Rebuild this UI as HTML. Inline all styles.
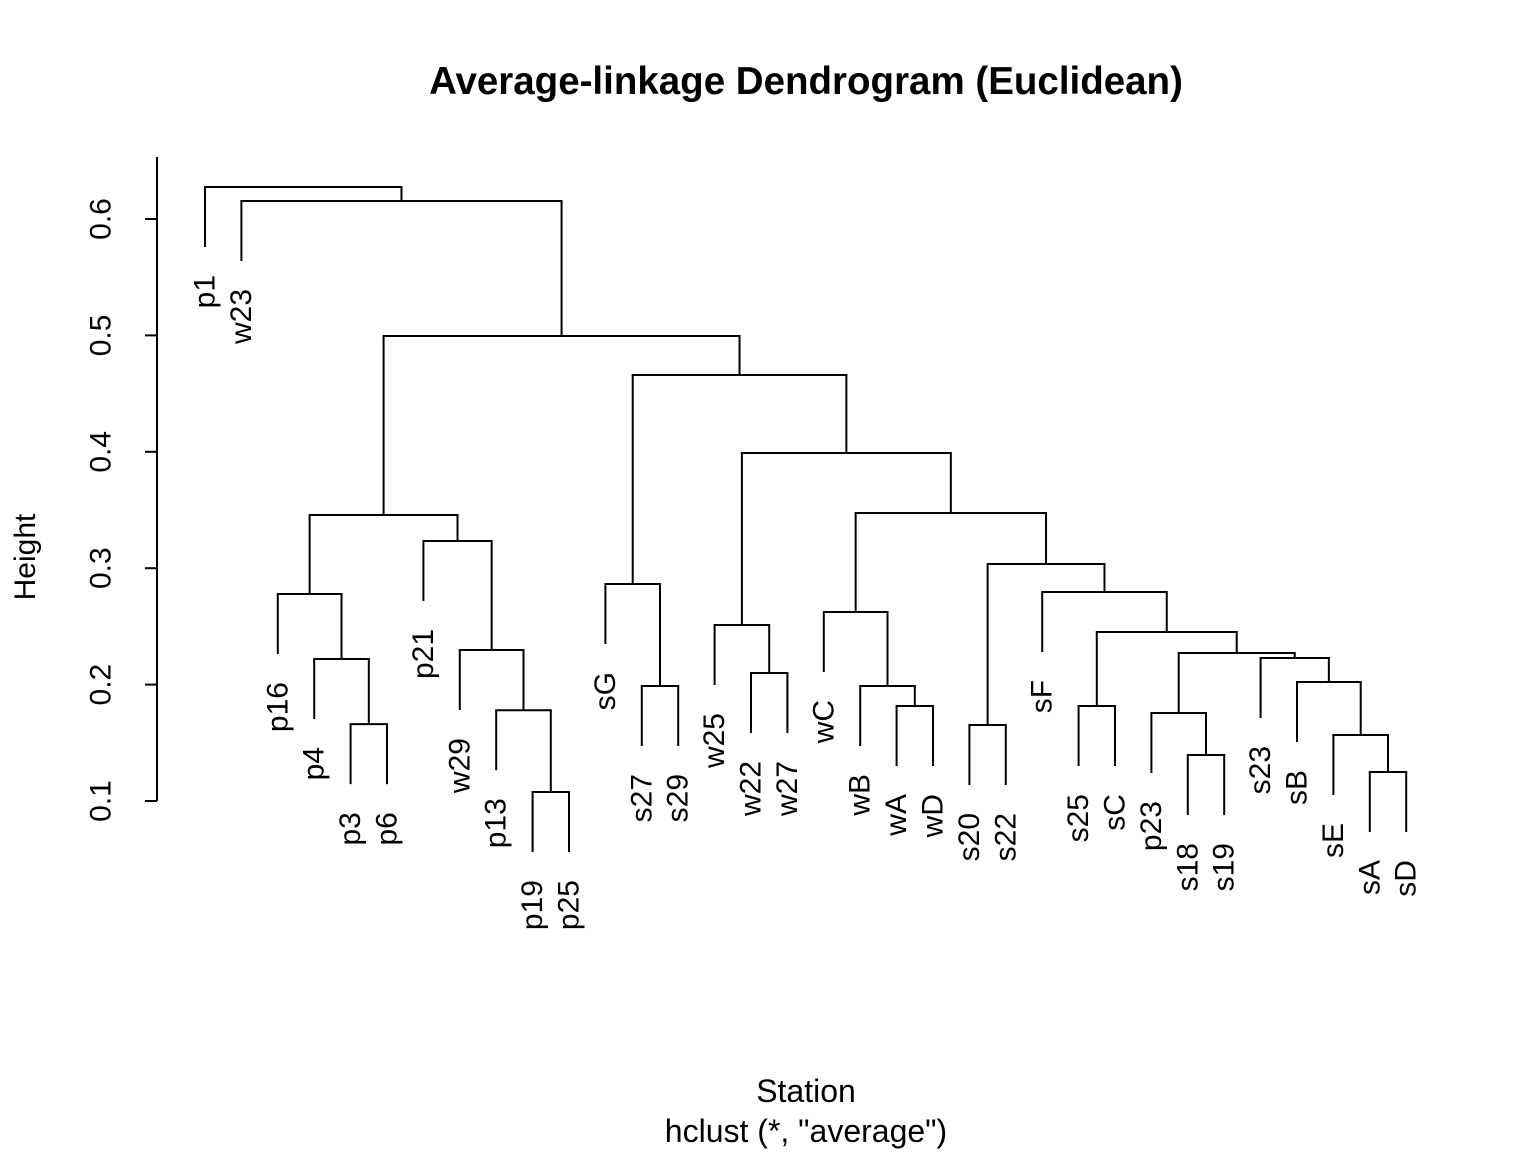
<!DOCTYPE html>
<html><head><meta charset="utf-8"><style>
html,body{margin:0;padding:0;background:#fff}
svg{display:block;font-family:"Liberation Sans",Arial,sans-serif}
</style></head><body>
<svg id="chart" width="1536" height="1152" viewBox="0 0 1536 1152" xmlns="http://www.w3.org/2000/svg">
<text x="806" y="94" text-anchor="middle" font-size="38.5" font-weight="bold">Average-linkage Dendrogram (Euclidean)</text>
<text x="806" y="1102" text-anchor="middle" font-size="32">Station</text>
<text x="806" y="1142" text-anchor="middle" font-size="32">hclust (*, "average")</text>
<text transform="translate(35,557) rotate(-90)" text-anchor="middle" font-size="30">Height</text>
<g id="axis"></g>
<g id="tree"></g>
<g id="labels"></g>
</svg>
<script>
const labels = ["p1","w23","p16","p4","p3","p6","p21","w29","p13","p19","p25","sG","s27","s29","w25","w22","w27","wC","wB","wA","wD","s20","s22","sF","s25","sC","p23","s18","s19","s23","sB","sE","sA","sD"];
const merges = [[-10,-11],[-33,-34],[-28,-29],[-32,2],[-22,-23],[-5,-6],[-27,3],[-9,1],[-20,-21],[-25,-26],[-13,-14],[-19,9],[-31,4],[-16,-17],[-4,6],[-30,13],[7,16],[-8,8],[10,17],[-15,14],[-18,12],[-3,15],[-24,19],[-12,11],[5,23],[-7,18],[22,26],[21,25],[20,28],[24,29],[27,30],[-2,31],[-1,32]];
const heights = [0.1077,0.1249,0.1395,0.1567,0.1653,0.166,0.1756,0.178,0.1816,0.1816,0.1988,0.1988,0.2022,0.21,0.222,0.2229,0.2271,0.2297,0.2452,0.2512,0.2624,0.2778,0.2796,0.2864,0.3036,0.3234,0.3457,0.3474,0.399,0.466,0.4995,0.6155,0.6275];
const yTicks = [0.1,0.2,0.3,0.4,0.5,0.6];

const NS = "http://www.w3.org/2000/svg";
function yS(h){ return 801 - (h - 0.1) * 1164; }
function xS(i){ return 205 + i * 36.4; }
const HANG = 60;
function mk(tag, attrs, parent){
  const e = document.createElementNS(NS, tag);
  for (const k in attrs) e.setAttribute(k, attrs[k]);
  parent.appendChild(e); return e;
}
const axis = document.getElementById('axis');
const tree = document.getElementById('tree');
const lab = document.getElementById('labels');

const ax = mk('line',{x1:157,x2:157,y1:157,y2:yS(0.1),stroke:'#000','stroke-width':2},axis);


yTicks.forEach(t=>{
  const tk = mk('line',{x1:145,x2:157,y1:yS(t),y2:yS(t),stroke:'#000','stroke-width':2},axis);
  
  
  const tl = mk('text',{transform:`translate(101,${yS(t)}) rotate(-90)`,'text-anchor':'middle','dominant-baseline':'central','font-size':30},axis);
  tl.textContent = t.toFixed(1);
  
  
});

const nodeX = [], nodeY = [];
function pos(ref){
  if (ref < 0) return {x: xS(-ref-1), leaf: true, i: -ref-1};
  return {x: nodeX[ref-1], y: nodeY[ref-1], leaf: false};
}
merges.forEach((m,k)=>{
  const h = yS(heights[k]);
  const a = pos(m[0]), b = pos(m[1]);
  [a,b].forEach(p=>{
    const bottom = p.leaf ? h + HANG : p.y;
    const v = mk('line',{x1:p.x,x2:p.x,y1:h,y2:bottom,stroke:'#000','stroke-width':2},tree);
    
    
    if (p.leaf){
      const t = mk('text',{transform:`translate(${p.x},${bottom+28}) rotate(-90)`,'text-anchor':'end','dominant-baseline':'central','font-size':30},lab);
      t.textContent = labels[p.i];
      
      
    }
  });
  const hl = mk('line',{x1:a.x-1,x2:b.x+1,y1:h,y2:h,stroke:'#000','stroke-width':2},tree);
  
  
  nodeX.push((a.x+b.x)/2); nodeY.push(h);
});
</script>
</body></html>
